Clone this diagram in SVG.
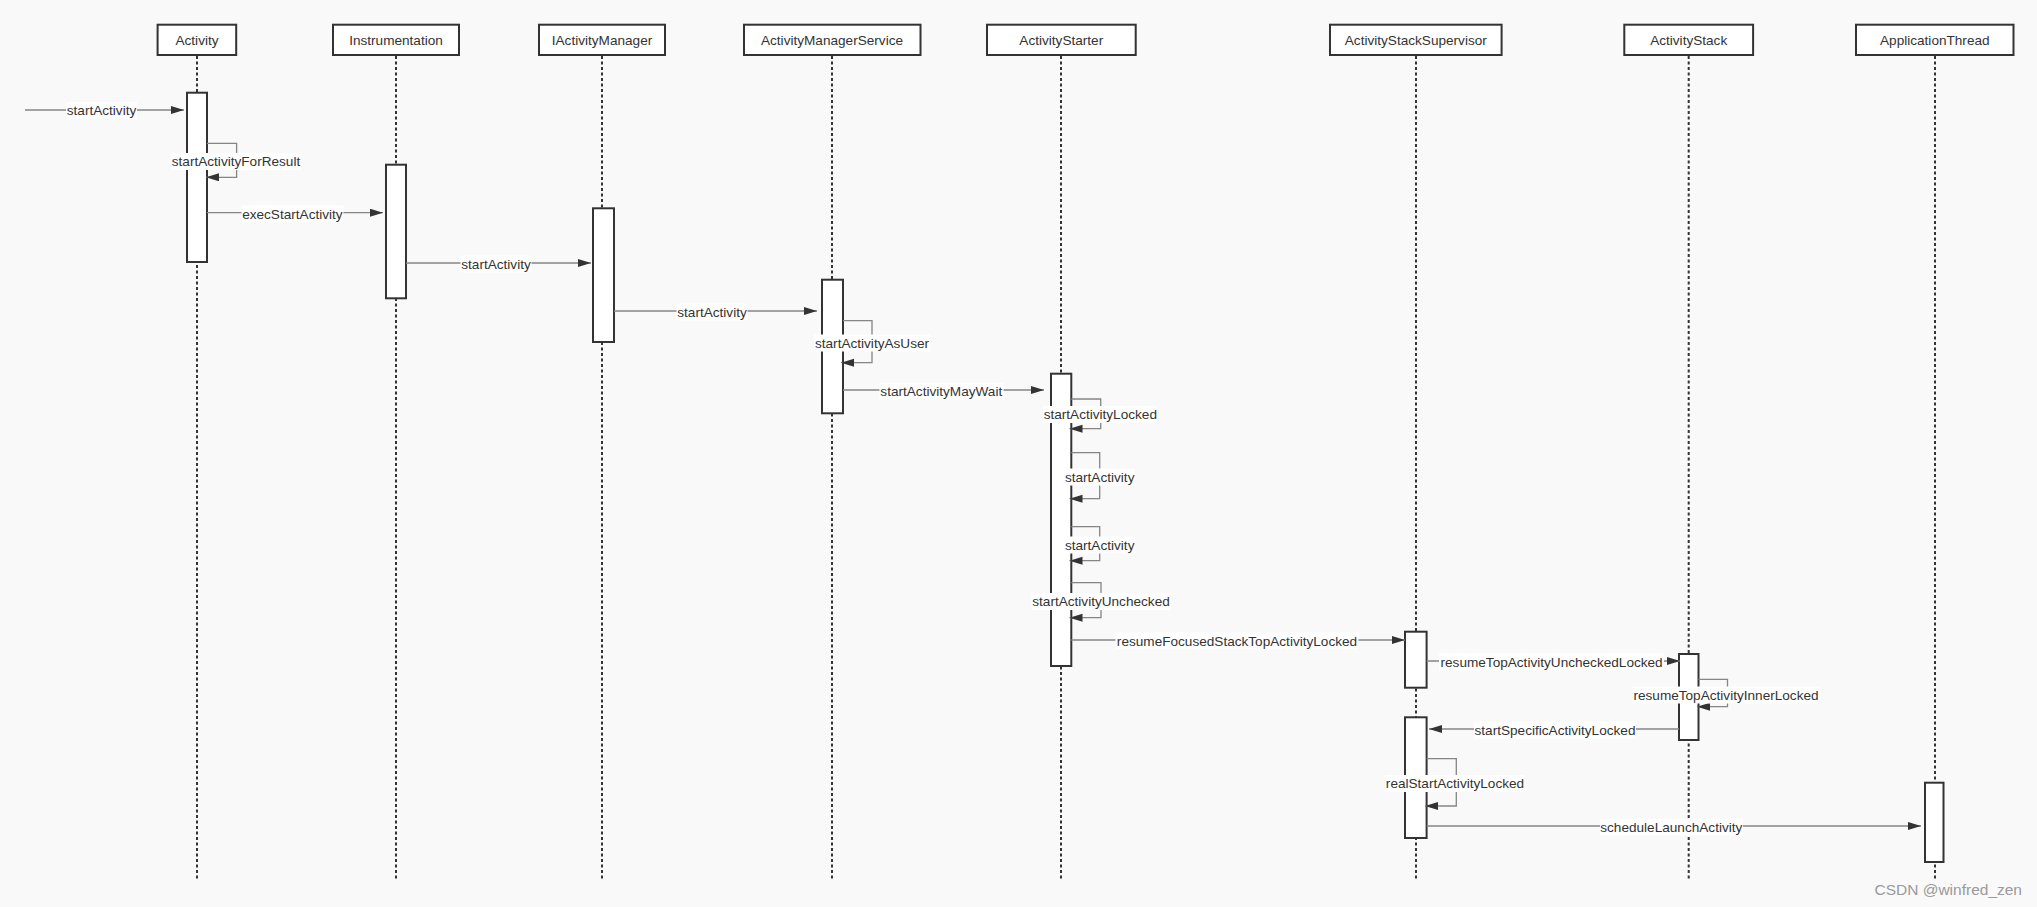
<svg xmlns="http://www.w3.org/2000/svg" width="2037" height="907" viewBox="0 0 2037 907">
<style>
.bg{fill:#f9f9f9}
.hdr{fill:#fff;stroke:#333;stroke-width:2}
.act{fill:#fff;stroke:#333;stroke-width:2}
.life{stroke:#333;stroke-width:2;stroke-dasharray:3 2.5;fill:none}
.t{font-family:"Liberation Sans",Arial,sans-serif;font-size:13.6px;fill:#333;text-anchor:middle}
.msg{stroke:#858585;stroke-width:1.3;fill:none}
.lb{fill:#fff}
.wm{font-family:"Liberation Sans",Arial,sans-serif;font-size:15.5px;fill:#9a9a9a;text-anchor:end}
</style>
<defs>
<marker id="ah" markerUnits="userSpaceOnUse" markerWidth="14" markerHeight="10" refX="13" refY="4" orient="auto" viewBox="0 0 14 10">
<path d="M0,0 L13,4 L0,8 z" fill="#333"/>
</marker>
</defs>
<rect class="bg" x="0" y="0" width="2037" height="907"/>

<g id="p-activity">
<line class="life" x1="197" y1="56" x2="197" y2="881"/>
<rect class="hdr" x="157.6" y="24.7" width="78.6" height="30.3"/>
<text class="t" x="197" y="44.8">Activity</text>
<rect class="act" x="187" y="92.7" width="20" height="169.3"/>
</g>

<g id="p-instrumentation">
<line class="life" x1="396" y1="56" x2="396" y2="881"/>
<rect class="hdr" x="333" y="24.7" width="126" height="30.3"/>
<text class="t" x="396" y="44.8">Instrumentation</text>
<rect class="act" x="386" y="164.7" width="20" height="133.6"/>
</g>

<g id="p-iactivitymanager">
<line class="life" x1="602" y1="56" x2="602" y2="881"/>
<rect class="hdr" x="539" y="24.7" width="126" height="30.3"/>
<text class="t" x="602" y="44.8">IActivityManager</text>
<rect class="act" x="593" y="208.3" width="21" height="133.7"/>
</g>

<g id="p-ams">
<line class="life" x1="832" y1="56" x2="832" y2="881"/>
<rect class="hdr" x="744" y="24.7" width="176.5" height="30.3"/>
<text class="t" x="832" y="44.8">ActivityManagerService</text>
<rect class="act" x="822" y="279.7" width="21" height="133.6"/>
</g>

<g id="p-activitystarter">
<line class="life" x1="1061" y1="56" x2="1061" y2="881"/>
<rect class="hdr" x="987" y="24.7" width="148.7" height="30.3"/>
<text class="t" x="1061.3" y="44.8">ActivityStarter</text>
<rect class="act" x="1051" y="373.7" width="20.3" height="292.3"/>
</g>

<g id="p-ass">
<line class="life" x1="1416" y1="56" x2="1416" y2="881"/>
<rect class="hdr" x="1330" y="24.7" width="171.6" height="30.3"/>
<text class="t" x="1415.8" y="44.8">ActivityStackSupervisor</text>
<rect class="act" x="1405" y="631.7" width="21.6" height="56"/>
<rect class="act" x="1405" y="717.3" width="21.6" height="120.7"/>
</g>

<g id="p-activitystack">
<line class="life" x1="1688.7" y1="56" x2="1688.7" y2="881"/>
<rect class="hdr" x="1624.3" y="24.7" width="128.8" height="30.3"/>
<text class="t" x="1688.7" y="44.8">ActivityStack</text>
<rect class="act" x="1679" y="654" width="19.5" height="86"/>
</g>

<g id="p-applicationthread">
<line class="life" x1="1935" y1="56" x2="1935" y2="881"/>
<rect class="hdr" x="1856" y="24.7" width="157.5" height="30.3"/>
<text class="t" x="1934.8" y="44.8">ApplicationThread</text>
<rect class="act" x="1925" y="782.7" width="18.5" height="79.3"/>
</g>

<g id="connectors">
<!-- 1 startActivity -->
<line class="msg" x1="25" y1="110" x2="184" y2="110" marker-end="url(#ah)"/>
<!-- 2 self startActivityForResult -->
<polyline class="msg" points="207,143.3 236.6,143.3 236.6,177.3 206,177.3" marker-end="url(#ah)"/>
<!-- 3 execStartActivity -->
<line class="msg" x1="207" y1="212.7" x2="383" y2="212.7" marker-end="url(#ah)"/>
<!-- 4 startActivity -->
<line class="msg" x1="406" y1="263" x2="591" y2="263" marker-end="url(#ah)"/>
<!-- 5 startActivity -->
<line class="msg" x1="614" y1="311" x2="817" y2="311" marker-end="url(#ah)"/>
<!-- 6 self startActivityAsUser -->
<polyline class="msg" points="843,320.7 872,320.7 872,362.7 841,362.7" marker-end="url(#ah)"/>
<!-- 7 startActivityMayWait -->
<line class="msg" x1="843" y1="390" x2="1044" y2="390" marker-end="url(#ah)"/>
<!-- 8 self startActivityLocked -->
<polyline class="msg" points="1071.3,399 1100.7,399 1100.7,428.7 1069.5,428.7" marker-end="url(#ah)"/>
<!-- 9 self startActivity -->
<polyline class="msg" points="1071.3,452.7 1099.7,452.7 1099.7,498.7 1069.5,498.7" marker-end="url(#ah)"/>
<!-- 10 self startActivity -->
<polyline class="msg" points="1071.3,526.7 1099.7,526.7 1099.7,560.7 1069.5,560.7" marker-end="url(#ah)"/>
<!-- 11 self startActivityUnchecked -->
<polyline class="msg" points="1071.3,582.7 1101,582.7 1101,617.7 1069.5,617.7" marker-end="url(#ah)"/>
<!-- 12 resumeFocusedStackTopActivityLocked -->
<line class="msg" x1="1071.3" y1="640" x2="1405" y2="640" marker-end="url(#ah)"/>
<!-- 13 resumeTopActivityUncheckedLocked -->
<line class="msg" x1="1426.6" y1="661" x2="1680" y2="661" marker-end="url(#ah)"/>
<!-- 14 self resumeTopActivityInnerLocked -->
<polyline class="msg" points="1698.5,679.3 1727.5,679.3 1727.5,706.7 1697,706.7" marker-end="url(#ah)"/>
<!-- 15 startSpecificActivityLocked -->
<line class="msg" x1="1679" y1="729" x2="1429" y2="729" marker-end="url(#ah)"/>
<!-- 16 self realStartActivityLocked -->
<polyline class="msg" points="1426.6,758.7 1456.3,758.7 1456.3,806 1425,806" marker-end="url(#ah)"/>
<!-- 17 scheduleLaunchActivity -->
<line class="msg" x1="1426.6" y1="826" x2="1921" y2="826" marker-end="url(#ah)"/>

<!-- labels -->
<rect class="lb" x="66" y="102" width="71" height="17"/>
<text class="t" x="101.5" y="115.3">startActivity</text>
<rect class="lb" x="171" y="153" width="130" height="17"/>
<text class="t" x="236" y="166.3">startActivityForResult</text>
<rect class="lb" x="241.5" y="205.5" width="102" height="17"/>
<text class="t" x="292.4" y="218.8">execStartActivity</text>
<rect class="lb" x="460.5" y="255.5" width="71" height="17"/>
<text class="t" x="496" y="268.8">startActivity</text>
<rect class="lb" x="676.5" y="303.5" width="71" height="17"/>
<text class="t" x="712" y="316.8">startActivity</text>
<rect class="lb" x="814" y="334.5" width="116" height="17"/>
<text class="t" x="872" y="347.8">startActivityAsUser</text>
<rect class="lb" x="879.5" y="382.5" width="124" height="17"/>
<text class="t" x="941.3" y="395.8">startActivityMayWait</text>
<rect class="lb" x="1043" y="406" width="115" height="17"/>
<text class="t" x="1100.3" y="419.3">startActivityLocked</text>
<rect class="lb" x="1064" y="468.5" width="71" height="17"/>
<text class="t" x="1099.7" y="481.8">startActivity</text>
<rect class="lb" x="1064" y="536.5" width="71" height="17"/>
<text class="t" x="1099.7" y="549.8">startActivity</text>
<rect class="lb" x="1031.5" y="593" width="139" height="17"/>
<text class="t" x="1101" y="606.3">startActivityUnchecked</text>
<rect class="lb" x="1115.5" y="632.5" width="243" height="17"/>
<text class="t" x="1237" y="645.8">resumeFocusedStackTopActivityLocked</text>
<rect class="lb" x="1439" y="653.5" width="225" height="17"/>
<text class="t" x="1551.6" y="666.8">resumeTopActivityUncheckedLocked</text>
<rect class="lb" x="1632" y="686.5" width="188" height="17"/>
<text class="t" x="1726" y="699.8">resumeTopActivityInnerLocked</text>
<rect class="lb" x="1474" y="721.5" width="162" height="17"/>
<text class="t" x="1555" y="734.8">startSpecificActivityLocked</text>
<rect class="lb" x="1385.5" y="775" width="139" height="17"/>
<text class="t" x="1455" y="788.3">realStartActivityLocked</text>
<rect class="lb" x="1600" y="818.5" width="143" height="17"/>
<text class="t" x="1671.3" y="831.8">scheduleLaunchActivity</text>
</g>

<text class="wm" x="2022" y="895">CSDN @winfred_zen</text>
</svg>
